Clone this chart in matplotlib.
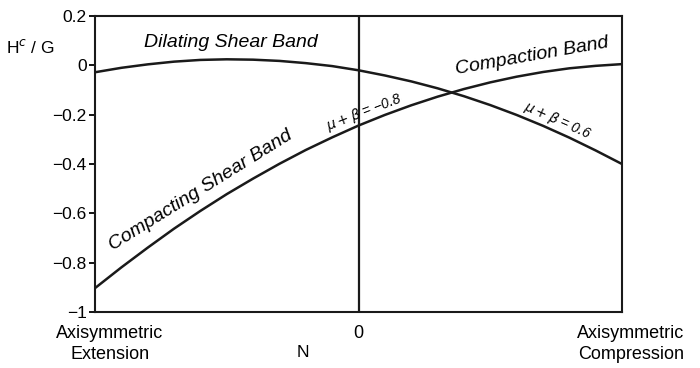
import matplotlib.pyplot as plt
import matplotlib.transforms as mtransforms

plt.rcParams['font.family'] = ['Liberation Sans', 'DejaVu Sans']

# N from axisymmetric extension (-1) to axisymmetric compression (+1)
n_vals = [-1.0, -0.9, -0.8, -0.7, -0.6, -0.5, -0.4, -0.3, -0.2, -0.1, 0.0,
          0.1, 0.2, 0.3, 0.4, 0.5, 0.6, 0.7, 0.8, 0.9, 1.0]
# H^c/G
h_pos = [-0.028, -0.010, 0.004, 0.015, 0.022, 0.0245, 0.023, 0.018, 0.009, -0.003, -0.020,
         -0.041, -0.065, -0.093, -0.125, -0.161, -0.201, -0.245, -0.293, -0.345, -0.400]   # mu+beta = 0.6
h_neg = [-0.903, -0.819, -0.739, -0.662, -0.590, -0.522, -0.459, -0.399, -0.343, -0.292, -0.244,
         -0.201, -0.162, -0.127, -0.096, -0.069, -0.046, -0.027, -0.012, -0.002, 0.005]    # mu+beta = -0.8

y_ticks = [0.2, 0, -0.2, -0.4, -0.6, -0.8, -1]
y_labels = ['0.2', '0', '\u22120.2', '\u22120.4', '\u22120.6', '\u22120.8', '\u22121']
x_ticks = [-1, 0, 1]
x_labels = ['Axisymmetric\nExtension', '0', 'Axisymmetric\nCompression']

fig = plt.figure(figsize=(7, 3.68), dpi=100)
ax = fig.add_axes([0.1357, 0.152, 0.7529, 0.8045])

ax.plot(n_vals, h_pos, color='#1a1a1a', lw=1.8)
ax.plot(n_vals, h_neg, color='#1a1a1a', lw=1.8)
ax.axvline(0, color='#1a1a1a', lw=1.6)

ax.set_xlim(-1, 1)
ax.set_ylim(-1, 0.2)
ax.set_yticks(y_ticks)
ax.set_yticklabels(y_labels)
ax.set_xticks(x_ticks)
ax.set_xticklabels(x_labels, linespacing=1.35)
ax.tick_params(axis='y', direction='out', length=4, width=1.3, labelsize=12.5, pad=2)
ax.tick_params(axis='x', length=0, labelsize=13, pad=9)
for sp in ax.spines.values():
    sp.set_linewidth(1.5)
    sp.set_color('#1a1a1a')

# nudge the end labels to the right like in the original
xl = ax.get_xticklabels()
xl[0].set_transform(xl[0].get_transform() + mtransforms.ScaledTranslation(15 / 100, 0, fig.dpi_scale_trans))
xl[2].set_transform(xl[2].get_transform() + mtransforms.ScaledTranslation(9 / 100, 0, fig.dpi_scale_trans))

fig.text(0.008, 0.872, 'H$^c$ / G', fontsize=12.5, va='center', ha='left')
fig.text(0.433, 0.041, 'N', fontsize=12.5, va='center', ha='center')

ax.text(-0.486, 0.094, 'Dilating Shear Band', fontsize=14, style='italic', ha='center', va='center')
ax.text(0.657, 0.038, 'Compaction Band', fontsize=14, style='italic', ha='center', va='center',
        rotation=10, rotation_mode='anchor')
ax.text(-0.60, -0.505, 'Compacting Shear Band', fontsize=14, style='italic', ha='center', va='center',
        rotation=32, rotation_mode='anchor')
ax.text(0.02, -0.19, '$\\mu+\\beta$ = \u22120.8', fontsize=10, style='italic', ha='center', va='center',
        rotation=21, rotation_mode='anchor')
ax.text(0.755, -0.224, '$\\mu+\\beta$ = 0.6', fontsize=10, style='italic', ha='center', va='center',
        rotation=-24, rotation_mode='anchor')

fig.savefig('out.png', dpi=100)
